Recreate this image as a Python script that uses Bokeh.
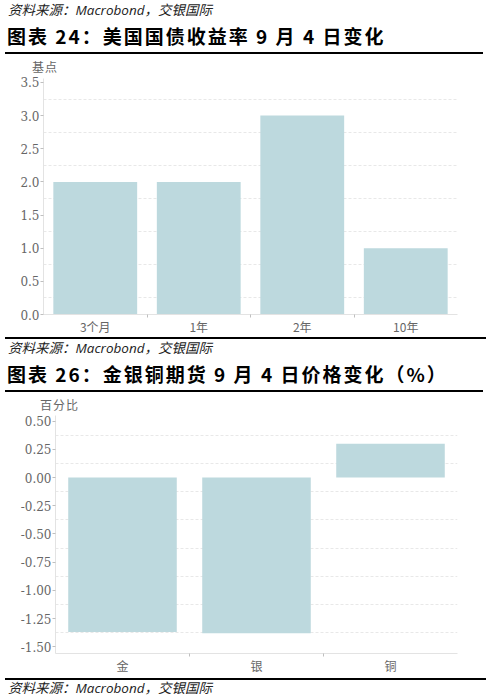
from bokeh.plotting import figure
from bokeh.models import Div, FixedTicker, Range1d, NumeralTickFormatter
from bokeh.layouts import column, row
from bokeh.embed import file_html
from bokeh.resources import INLINE

# ---- data ----
source_text = "资料来源：Macrobond，交银国际"

title1 = "图表 24：美国国债收益率 9 月 4 日变化"
unit1 = "基点"
cats1 = ["3个月", "1年", "2年", "10年"]
vals1 = [2.0, 2.0, 3.0, 1.0]
yticks1 = [0.0, 0.5, 1.0, 1.5, 2.0, 2.5, 3.0, 3.5]

title2 = "图表 26：金银铜期货 9 月 4 日价格变化（%）"
unit2 = "百分比"
cats2 = ["金", "银", "铜"]
vals2 = [-1.37, -1.38, 0.30]
yticks2 = [-1.50, -1.25, -1.00, -0.75, -0.50, -0.25, 0.00, 0.25, 0.50]

BAR = "#BDD9DE"
TXT = "#666666"
W = 478


def src_div(h, border_top):
    bt = "border-top:2px solid #000;" if border_top else ""
    ih = h - (2 if border_top else 0)
    html = (f'<div style="{bt}width:{W}px;height:{ih}px;padding-left:3px;box-sizing:content-box;'
            f'font-family:\'Open Sans\',\'Noto Sans CJK SC\';font-style:italic;font-size:13.5px;'
            f'color:#222;line-height:{ih}px;white-space:nowrap">{source_text}</div>')
    return Div(text=html, width=W, height=h, margin=0)


def title_div(text, h):
    html = (f'<div style="width:{W}px;height:{h - 2}px;border-bottom:2px solid #000;padding-left:2px;'
            f'font-family:\'Noto Sans CJK SC\';font-weight:bold;font-size:19px;letter-spacing:2px;'
            f'color:#000;line-height:{h - 4}px;white-space:nowrap">{text}</div>')
    return Div(text=html, width=W, height=h, margin=0)


def unit_div(text, h, left):
    html = (f'<div style="width:{W}px;height:{h}px;padding-left:{left}px;overflow:visible;'
            f'font-family:\'Noto Sans CJK SC\';font-size:12px;letter-spacing:1px;color:{TXT};'
            f'line-height:22px;white-space:nowrap">{text}</div>')
    return Div(text=html, width=W, height=h, margin=0)


def bar_chart(cats, vals, yticks, ylo, yhi, fmt, height, left, top, bottom):
    n = len(cats)
    xs = [i + 0.5 for i in range(n)]
    p = figure(width=W, height=height, x_range=Range1d(0, n), y_range=Range1d(ylo, yhi),
               output_backend="svg", toolbar_location=None,
               min_border_left=left, min_border_right=26, min_border_top=top,
               min_border_bottom=bottom, outline_line_color=None, margin=0)
    p.vbar(x=xs, top=vals, bottom=0, width=0.81, fill_color=BAR, line_color=None)

    # x axis
    xa = p.xaxis[0]
    xa.ticker = FixedTicker(ticks=xs, minor_ticks=list(range(1, n)))
    xa.major_label_overrides = {x: c for x, c in zip(xs, cats)}
    xa.major_tick_out = 0
    xa.major_tick_in = 0
    xa.minor_tick_out = 3
    xa.minor_tick_in = 0
    xa.minor_tick_line_color = "#bfbfbf"
    xa.axis_line_color = "#e3e3e3"
    xa.major_label_text_font = "Noto Sans CJK SC"
    xa.major_label_text_font_size = "12px"
    xa.major_label_text_color = TXT
    xa.major_label_standoff = 0

    # y axis
    ya = p.yaxis[0]
    minor = [(a + b) / 2 for a, b in zip(yticks, yticks[1:])]
    ya.ticker = FixedTicker(ticks=yticks, minor_ticks=minor)
    ya.formatter = NumeralTickFormatter(format=fmt)
    ya.major_tick_out = 3
    ya.major_tick_in = 0
    ya.minor_tick_out = 0
    ya.minor_tick_in = 0
    ya.major_tick_line_color = "#bfbfbf"
    ya.axis_line_color = "#e3e3e3"
    ya.major_label_text_font = "DejaVu Serif"
    ya.major_label_text_font_size = "12px"
    ya.major_label_text_color = TXT
    ya.major_label_standoff = 1

    p.xgrid.grid_line_color = None
    p.ygrid.grid_line_color = None
    p.ygrid.minor_grid_line_color = "#e8e8e8"
    p.ygrid.minor_grid_line_dash = "3 2"
    return p


p1 = bar_chart(cats1, vals1, yticks1, 0, 3.56, "0.0", 263, 38, 4, 23)
p2 = bar_chart(cats2, vals2, yticks2, -1.56, 0.55, "0.00", 268, 50, 5, 25)

layout = column(
    src_div(20, False),
    title_div(title1, 36),
    unit_div(unit1, 18, 27),
    row(p1, margin=0),
    src_div(20, True),
    title_div(title2, 37),
    unit_div(unit2, 16, 35),
    row(p2, margin=0),
    src_div(18, True),
    spacing=0, margin=(0, 0, 0, 5),
)

open("out.html", "w").write(file_html(layout, INLINE))
